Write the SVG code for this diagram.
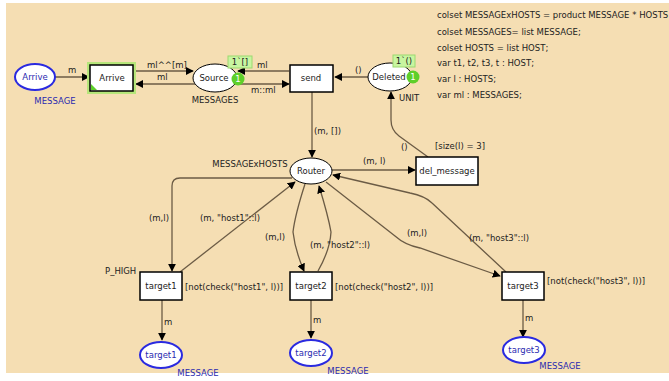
<svg xmlns="http://www.w3.org/2000/svg" width="669" height="381" viewBox="0 0 669 381">
<defs>
<marker id="ah" viewBox="0 0 10 10" refX="9" refY="5" markerWidth="8" markerHeight="8" markerUnits="userSpaceOnUse" orient="auto"><path d="M0,0 L10,5 L0,10 z" fill="#000"/></marker>
<style>
text{font-family:"DejaVu Sans",Verdana,sans-serif;font-size:8.5px;fill:#222}
.arc{fill:none;stroke:#6b5b45;stroke-width:1.3;marker-end:url(#ah)}
.tr{fill:#fff;stroke:#000;stroke-width:1.5}
.pl{fill:#fff;stroke:#000;stroke-width:1}
.bpl{fill:#fff;stroke:#2a2ae0;stroke-width:2}
.bt{fill:#2a2ab0}
.tok{fill:#5ecf2a}
.tokl{fill:#c8f5a0;stroke:#9cd870;stroke-width:1}
.c{text-anchor:middle}
</style>
</defs>
<rect x="0" y="0" width="669" height="381" fill="#fff"/>
<rect x="6" y="3" width="663" height="370" fill="#f5deb3"/>

<g id="declarations">
<text x="437" y="18">colset MESSAGExHOSTS = product MESSAGE * HOSTS</text>
<text x="437" y="35">colset MESSAGES= list MESSAGE;</text>
<text x="437" y="51">colset HOSTS = list HOST;</text>
<text x="437" y="66">var t1, t2, t3, t : HOST;</text>
<text x="437" y="82">var l : HOSTS;</text>
<text x="437" y="98">var ml : MESSAGES;</text>
</g>

<g id="connectors">
<path class="arc" d="M55,77 L89,77"/>
<text x="68" y="73">m</text>
<path class="arc" d="M135,71 L193,71"/>
<text x="147" y="68">ml^^[m]</text>
<path class="arc" d="M195,84 L136,84"/>
<text x="157" y="80">ml</text>
<path class="arc" d="M289,71 L238,71"/>
<text x="257" y="68">ml</text>
<path class="arc" d="M237,84 L289,84"/>
<text x="251" y="93">m::ml</text>
<path class="arc" d="M368,77 L335,77"/>
<text x="355" y="73">()</text>
<path class="arc" d="M312,92 L312,157"/>
<text x="314" y="134">(m, [])</text>
<path class="arc" d="M332,170 L415,170"/>
<text x="363" y="164">(m, l)</text>
<path class="arc" d="M428,157 L399,136 Q391,130 391,120 L391,92"/>
<text x="401" y="150">()</text>
<text x="435" y="149">[size(l) = 3]</text>
<path class="arc" d="M292,178 L180,178 Q172,178 172,186 L172,271"/>
<text x="149" y="221">(m,l)</text>
<path class="arc" d="M180,272 L295,182"/>
<text x="200" y="221">(m, "host1"::l)</text>
<path class="arc" d="M305,184 Q295,215 293,232 Q295,250 304,271"/>
<text x="265" y="240">(m,l)</text>
<path class="arc" d="M318,271 Q330,250 331,232 Q328,215 319,186"/>
<text x="310" y="248">(m, "host2"::l)</text>
<path class="arc" d="M326,182 L395,236 Q405,245 420,248 L500,276"/>
<text x="407" y="236">(m,l)</text>
<path class="arc" d="M506,272 L432,203 Q425,196 410,193 L333,175"/>
<text x="469" y="241">(m, "host3"::l)</text>
<path class="arc" d="M162,300 L162,340"/>
<text x="164" y="325">m</text>
<path class="arc" d="M311,300 L311,338"/>
<text x="313" y="323">m</text>
<path class="arc" d="M523,300 L523,337"/>
<text x="525" y="321">m</text>
</g>

<g id="p_arrive">
<ellipse class="bpl" cx="35" cy="77" rx="20" ry="13"/>
<text class="c bt" x="35" y="80">Arrive</text>
<text class="c bt" x="55" y="104">MESSAGE</text>
</g>

<g id="t_arrive">
<rect x="89" y="64" width="45" height="28" fill="none" stroke="#b6e67a" stroke-width="4"/>
<rect class="tr" x="90" y="65" width="43" height="26"/>
<path d="M91,90 L91,84 L97,90 z" fill="#5ecf2a"/>
<text class="c" x="112" y="81">Arrive</text>
</g>

<g id="p_source">
<ellipse class="pl" cx="215" cy="78" rx="22" ry="14"/>
<text class="c" x="214" y="81">Source</text>
<text class="c" x="215" y="103">MESSAGES</text>
<rect class="tokl" x="228" y="56" width="24" height="12"/>
<text class="c" x="240" y="65">1`[]</text>
<circle class="tok" cx="238" cy="79" r="6.5"/>
<text class="c" x="238" y="82" style="fill:#fff">1</text>
</g>

<g id="t_send">
<rect class="tr" x="290" y="65" width="43" height="27"/>
<text class="c" x="311" y="81">send</text>
</g>

<g id="p_deleted">
<ellipse class="pl" cx="390" cy="77" rx="22" ry="14"/>
<text class="c" x="389" y="80">Deleted</text>
<text x="399" y="101">UNIT</text>
<rect class="tokl" x="393" y="55" width="22" height="12"/>
<text class="c" x="404" y="64">1`()</text>
<circle class="tok" cx="413" cy="77" r="6.5"/>
<text class="c" x="413" y="80" style="fill:#fff">1</text>
</g>

<g id="p_router">
<ellipse class="pl" cx="311" cy="171" rx="21" ry="13"/>
<text class="c" x="311" y="174">Router</text>
<text class="c" x="250" y="167">MESSAGExHOSTS</text>
</g>

<g id="t_del_message">
<rect class="tr" x="416" y="157" width="62" height="28"/>
<text class="c" x="447" y="174">del_message</text>
</g>

<g id="t_target1">
<rect class="tr" x="140" y="272" width="42" height="28"/>
<text class="c" x="161" y="289">target1</text>
<text x="105" y="274">P_HIGH</text>
<text x="185" y="290">[not(check("host1", l))]</text>
</g>

<g id="t_target2">
<rect class="tr" x="290" y="272" width="42" height="28"/>
<text class="c" x="311" y="289">target2</text>
<text x="335" y="290">[not(check("host2", l))]</text>
</g>

<g id="t_target3">
<rect class="tr" x="502" y="272" width="42" height="28"/>
<text class="c" x="523" y="289">target3</text>
<text x="547" y="284">[not(check("host3", l))]</text>
</g>

<g id="p_target1">
<ellipse class="bpl" cx="161" cy="355" rx="21" ry="13"/>
<text class="c bt" x="161" y="358">target1</text>
<text class="c bt" x="198" y="376">MESSAGE</text>
</g>

<g id="p_target2">
<ellipse class="bpl" cx="311" cy="353" rx="21" ry="13"/>
<text class="c bt" x="311" y="356">target2</text>
<text class="c bt" x="348" y="374">MESSAGE</text>
</g>

<g id="p_target3">
<ellipse class="bpl" cx="524" cy="350" rx="21" ry="13"/>
<text class="c bt" x="524" y="353">target3</text>
<text class="c bt" x="560" y="369">MESSAGE</text>
</g>
</svg>
